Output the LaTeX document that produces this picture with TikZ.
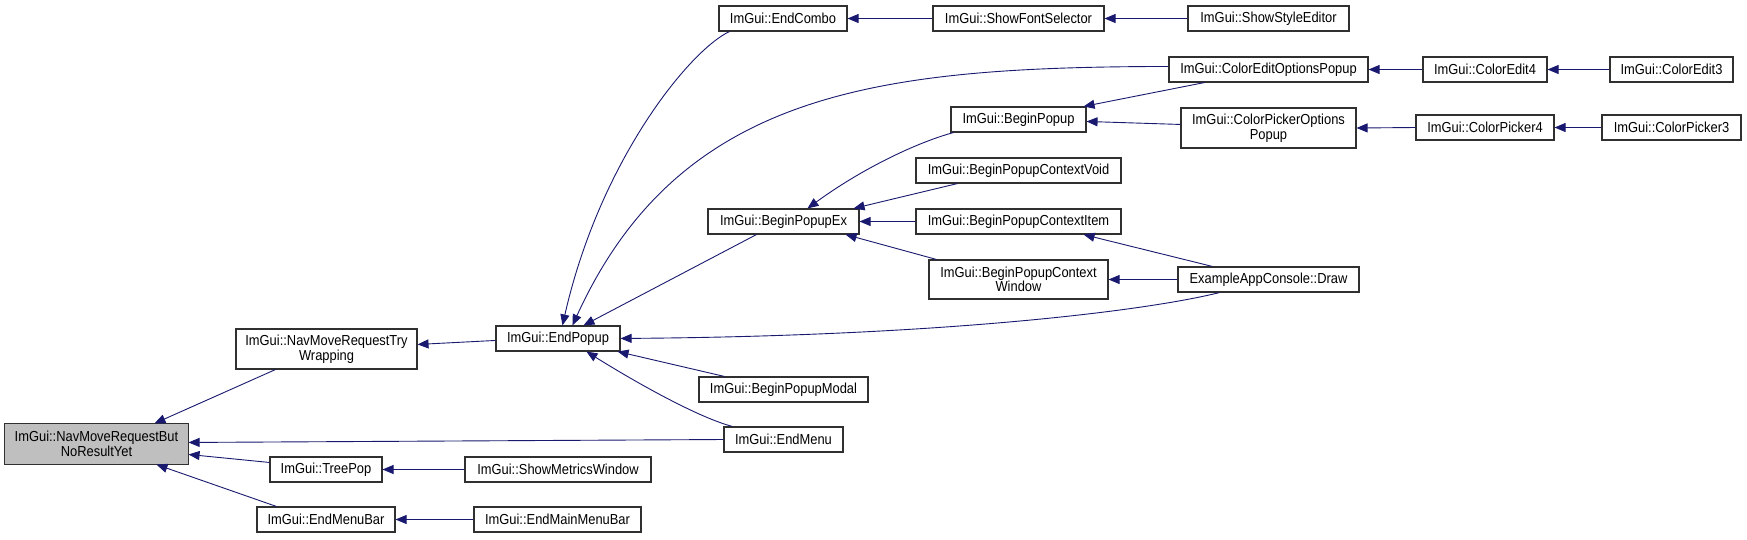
\documentclass[tikz,border=0pt]{standalone}
\usepackage{fontspec}
\setmainfont[FakeStretch=0.89]{Liberation Sans}
\usetikzlibrary{arrows.meta}
\definecolor{edgeblue}{HTML}{191970}
\definecolor{rootgray}{HTML}{BFBFBF}
\definecolor{boxline}{HTML}{303030}
\newcommand\bx[6]{\node[box, minimum width={(#4-#2)*1pt}, minimum height={(#5-#3)*1pt}] (#1) at ({(#2+#4)/2},{(#3+#5)/2}) {#6};}
\begin{document}
\begin{tikzpicture}[x=1pt,y=-1pt,
  box/.style={draw=boxline, line width=1.1pt, fill=white, inner sep=0pt, align=center,
    font=\fontsize{14.5}{14.5}\selectfont},
  edge/.style={draw=edgeblue, line width=0.9pt, {Triangle[length=11pt,width=9pt]}-}]
\useasboundingbox[fill=white] (0,0) rectangle (1747,539);
% nodes
\bx{root}{5}{424}{188}{464}{ImGui::NavMoveRequestBut\\NoResultYet}
\fill[rootgray] (root.south west) rectangle (root.north east);
\draw[boxline, line width=1.1pt] (root.south west) rectangle (root.north east);
\node[font=\fontsize{14.5}{14.5}\selectfont, align=center] at (root.center) {ImGui::NavMoveRequestBut\\NoResultYet};
\bx{trywrap}{236}{329}{417}{369}{ImGui::NavMoveRequestTry\\Wrapping}
\bx{treepop}{270}{457}{382}{482}{ImGui::TreePop}
\bx{endmenubar}{257}{507}{395}{532}{ImGui::EndMenuBar}
\bx{endpopup}{496}{326}{620}{351}{ImGui::EndPopup}
\bx{showmetrics}{465}{457}{651}{482}{ImGui::ShowMetricsWindow}
\bx{endmainmenubar}{474}{507}{641}{532}{ImGui::EndMainMenuBar}
\bx{modal}{699}{377}{868}{402}{ImGui::BeginPopupModal}
\bx{endmenu}{724}{427}{843}{452}{ImGui::EndMenu}
\bx{endcombo}{719}{6}{847}{31}{ImGui::EndCombo}
\bx{bpex}{708}{209}{859}{234}{ImGui::BeginPopupEx}
\bx{fontsel}{933}{6}{1104}{31}{ImGui::ShowFontSelector}
\bx{styleed}{1188}{6}{1349}{31}{ImGui::ShowStyleEditor}
\bx{ceop}{1169}{57}{1368}{82}{ImGui::ColorEditOptionsPopup}
\bx{beginpopup}{951}{107}{1086}{132}{ImGui::BeginPopup}
\bx{cpop}{1181}{108}{1356}{148}{ImGui::ColorPickerOptions\\Popup}
\bx{bpcv}{916}{158}{1121}{183}{ImGui::BeginPopupContextVoid}
\bx{bpci}{916}{209}{1121}{234}{ImGui::BeginPopupContextItem}
\bx{bpcw}{929}{260}{1108}{299}{ImGui::BeginPopupContext\\Window}
\bx{draw}{1178}{267}{1359}{292}{ExampleAppConsole::Draw}
\bx{ce4}{1423}{57}{1547}{82}{ImGui::ColorEdit4}
\bx{ce3}{1610}{57}{1733}{82}{ImGui::ColorEdit3}
\bx{cp4}{1416}{115}{1554}{140}{ImGui::ColorPicker4}
\bx{cp3}{1602}{115}{1741}{140}{ImGui::ColorPicker3}
% edges
\draw[edge] ([xshift=150pt]root.north west) -- ([xshift=40pt]trywrap.south west);
\draw[edge] ([yshift=-19pt]root.north east) -- (endmenu.west);
\draw[edge] ([yshift=-31pt]root.north east) -- ([yshift=-6pt]treepop.north west);
\draw[edge] ([xshift=152pt]root.south west) -- ([xshift=20pt]endmenubar.north west);
\draw[edge] ([yshift=-16pt]trywrap.north east) -- ([yshift=-15pt]endpopup.north west);
\draw[edge] (treepop.east) -- (showmetrics.west);
\draw[edge] (endmenubar.east) -- (endmainmenubar.west);
\draw[edge] ([xshift=67pt]endpopup.north west) .. controls (600,160) and (690,50) .. ([xshift=11pt]endcombo.south west);
\draw[edge] ([xshift=77pt]endpopup.north west) .. controls (680,90) and (880,67) .. ([yshift=-10pt]ceop.north west);
\draw[edge] ([xshift=88pt]endpopup.north west) -- ([xshift=49pt]bpex.south west);
\draw[edge] ([yshift=-13pt]endpopup.north east) .. controls (950,336) and (1150,310) .. ([xshift=42pt]draw.south west);
\draw[edge] ([xshift=-3pt]endpopup.south east) -- ([xshift=26pt]modal.north west);
\draw[edge] ([xshift=91pt]endpopup.south west) .. controls (640,385) and (700,418) .. ([xshift=9pt]endmenu.north west);
\draw[edge] (endcombo.east) -- (fontsel.west);
\draw[edge] (fontsel.east) -- (styleed.west);
\draw[edge] ([xshift=100pt]bpex.north west) .. controls (860,170) and (915,143) .. ([xshift=3pt]beginpopup.south west);
\draw[edge] ([xshift=-6pt]bpex.north east) -- ([xshift=42pt]bpcv.south west);
\draw[edge] (bpex.east) -- (bpci.west);
\draw[edge] ([xshift=-14pt]bpex.south east) -- ([xshift=8pt]bpcw.north west);
\draw[edge] ([xshift=-3pt]beginpopup.north east) -- ([xshift=36pt]ceop.south west);
\draw[edge] ([yshift=-15pt]beginpopup.north east) -- ([yshift=-17pt]cpop.north west);
\draw[edge] (ceop.east) -- (ce4.west);
\draw[edge] (ce4.east) -- (ce3.west);
\draw[edge] (cpop.east) -- (cp4.west);
\draw[edge] (cp4.east) -- (cp3.west);
\draw[edge] ([xshift=-38pt]bpci.south east) -- ([xshift=35pt]draw.north west);
\draw[edge] (bpcw.east) -- (draw.west);
\end{tikzpicture}
\end{document}
